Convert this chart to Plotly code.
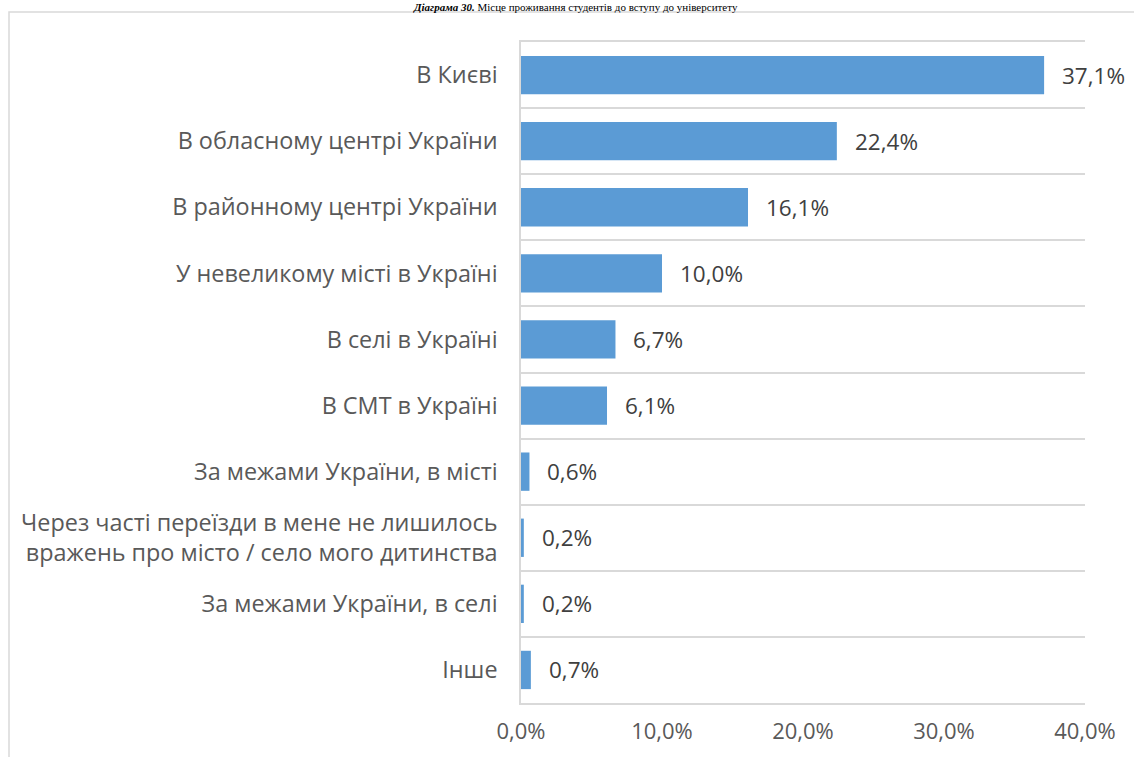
import plotly.graph_objects as go

categories = [
    "В Києві",
    "В обласному центрі України",
    "В районному центрі України",
    "У невеликому місті в Україні",
    "В селі в Україні",
    "В СМТ в Україні",
    "За межами України, в місті",
    "Через часті переїзди в мене не лишилось<br>вражень про місто / село мого дитинства",
    "За межами України, в селі",
    "Інше",
]
values = [37.1, 22.4, 16.1, 10.0, 6.7, 6.1, 0.6, 0.2, 0.2, 0.7]
tick_vals = [0, 10, 20, 30, 40]
tick_text = ["0,0%", "10,0%", "20,0%", "30,0%", "40,0%"]
title_text = "<b><i>Діаграма 30.</i></b> Місце проживання студентів до вступу до університету"

W, H = 1134, 757
L, R, T, B = 521, 1085, 42, 703
FONT = "Open Sans, sans-serif"
FS = 23.4

fig = go.Figure(go.Bar(
    x=values, y=categories, orientation="h",
    marker=dict(color="#5B9BD5", line=dict(width=0)),
    hoverinfo="x+y",
))

# data labels
annotations = []
for c, v in zip(categories, values):
    annotations.append(dict(
        x=v, y=c, xref="x", yref="y", text=f"{v:.1f}%".replace(".", ","),
        xanchor="left", yanchor="middle", xshift=16, showarrow=False,
        font=dict(family=FONT, size=22.5, color="#404040"),
    ))

def px_x(p):
    return (p - L) / (R - L)

def px_y(p):
    return (B - p) / (B - T)

annotations.append(dict(
    text=title_text, xref="paper", yref="paper",
    x=px_x(575), y=px_y(0), xanchor="center", yanchor="top",
    showarrow=False, borderpad=0,
    font=dict(family="Liberation Serif, Times New Roman, serif", size=11, color="black"),
))

fig.update_layout(
    width=W, height=H,
    margin=dict(l=L, r=W - R, t=T, b=H - B, autoexpand=False),
    paper_bgcolor="white", plot_bgcolor="white",
    separators=", ",
    bargap=0.42,
    showlegend=False,
    font=dict(family=FONT, size=FS, color="#595959"),
    xaxis=dict(range=[0, 40], tickvals=tick_vals, ticktext=tick_text,
               showgrid=False, zeroline=False, showline=True, mirror=True,
               linecolor="#D9D9D9", linewidth=1.5, ticks="",
               ticklabelstandoff=8,
               tickfont=dict(family=FONT, size=22, color="#595959")),
    yaxis=dict(type="category", autorange="reversed", tickson="boundaries",
               showgrid=True, gridcolor="#D9D9D9", gridwidth=1.5,
               showline=True, linecolor="#D9D9D9", linewidth=1.5, ticks="",
               ticklabelstandoff=17,
               tickfont=dict(family=FONT, size=FS, color="#595959")),
    shapes=[dict(type="rect", xref="paper", yref="paper",
                 x0=px_x(9), x1=px_x(1300), y0=px_y(900), y1=px_y(12),
                 line=dict(color="#D9D9D9", width=1.5), fillcolor="rgba(0,0,0,0)",
                 layer="below")],
    annotations=annotations,
)

fig.write_html("out.html", config={"displayModeBar": False},
               post_script="document.body.style.margin='0px';")
